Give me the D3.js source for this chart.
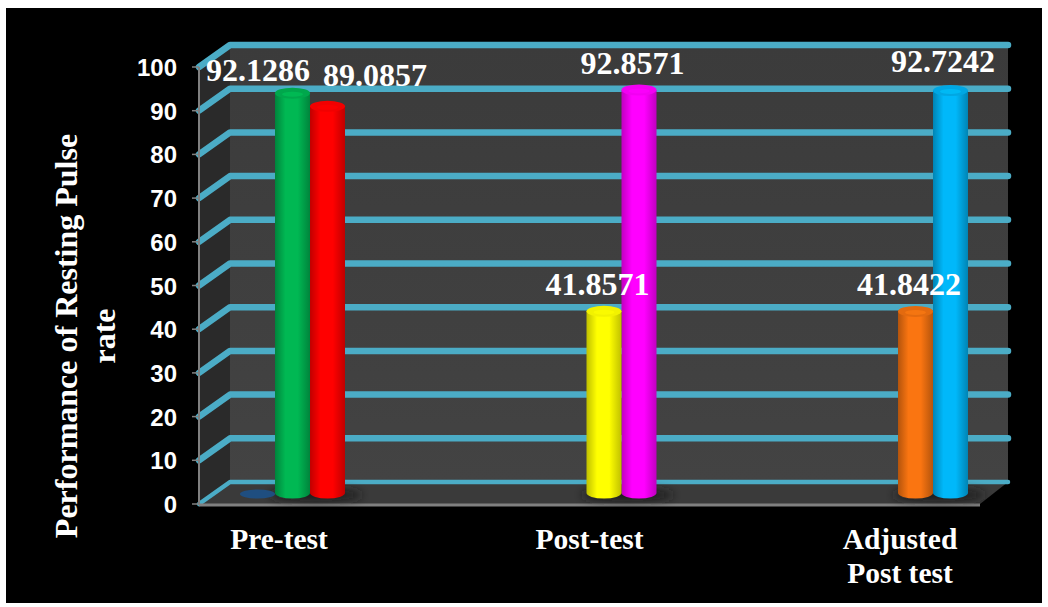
<!DOCTYPE html>
<html>
<head>
<meta charset="utf-8">
<script src="https://cdn.jsdelivr.net/npm/d3@7/dist/d3.min.js"></script>
<style>
 html, body { margin: 0; padding: 0; background: #fff; }
 svg { display: block; }
</style>
</head>
<body>
<div id="chart"></div>
<script>
//The chart's values.
var categories = ["Pre-test", "Post-test", "Adjusted Post test"];
var categoryLines = [["Pre-test"], ["Post-test"], ["Adjusted", "Post test"]];
var leftValues = [92.1286, 41.8571, 41.8422];
var rightValues = [89.0857, 92.8571, 92.7242];
var leftLabels = ["92.1286", "41.8571", "41.8422"];
var rightLabels = ["89.0857", "92.8571", "92.7242"];
var leftColors = ["#00b050", "#ffff00", "#f07010"];
var rightColors = ["#ff0000", "#ff00ff", "#00b0f0"];
var stubValues = [0];
var stubColors = ["#1f4e80"];
var yTicks = [0, 10, 20, 30, 40, 50, 60, 70, 80, 90, 100];
var yTitle = ["Performance of Resting Pulse", "rate"];

var width = 1048, height = 607;
var svg = d3.select("#chart").append("svg").attr("width", width).attr("height", height);

//The 3D box: front plane, and how far the back wall is shifted from it.
var frontLeft = 199, frontRight = 980, depthX = 31, depthY = -22;
var frontY = d3.scaleLinear().domain([0, 100]).range([504, 67]);
var barY = d3.scaleLinear().domain([0, 100]).range([493, 59]);
var barJoin = d3.scalePoint().domain(categories).range([310, 933]);
var labelX = d3.scalePoint().domain(categories).range([279, 900]);
var barWidth = 35;
var ry = 5.5;

var defs = svg.append("defs");

//Cylinder shading: darker at both edges, slightly bright in the middle.
function cylinderGradient(id, color)
{
 var g = defs.append("linearGradient").attr("id", id);
 var dark = d3.color(color).darker(0.8);
 var mid = d3.color(color).brighter(0.12);
 g.append("stop").attr("offset", "0%").attr("stop-color", dark);
 g.append("stop").attr("offset", "30%").attr("stop-color", mid);
 g.append("stop").attr("offset", "65%").attr("stop-color", mid);
 g.append("stop").attr("offset", "100%").attr("stop-color", dark);
}
leftColors.concat(rightColors).forEach(function(c, i) { cylinderGradient("cyl" + i, c); });

var wallGrad = defs.append("linearGradient").attr("id", "wall").attr("x1", 0).attr("x2", 0).attr("y1", 0).attr("y2", 1);
wallGrad.append("stop").attr("offset", "0%").attr("stop-color", "#3b3b3b");
wallGrad.append("stop").attr("offset", "100%").attr("stop-color", "#434343");

var shadowBlur = defs.append("filter").attr("id", "soft").attr("x", "-30%").attr("y", "-100%").attr("width", "160%").attr("height", "300%");
shadowBlur.append("feGaussianBlur").attr("stdDeviation", 5);

//Black plot area on the white page.
svg.append("rect").attr("x", 6).attr("y", 8).attr("width", 1036).attr("height", 595).attr("fill", "#000");

//Back wall, side wall, floor.
var plotTop = frontY(100), plotBottom = frontY(0);
svg.append("rect").attr("x", frontLeft + depthX).attr("y", plotTop + depthY)
 .attr("width", frontRight - frontLeft - 3).attr("height", plotBottom - plotTop).attr("fill", "url(#wall)");
svg.append("polygon").attr("fill", "#2a2a2a").attr("points", [
 [frontLeft, plotTop], [frontLeft + depthX, plotTop + depthY], [frontLeft + depthX, plotBottom + depthY], [frontLeft, plotBottom]
].join(" "));
svg.append("polygon").attr("fill", "#3a3a3a").attr("points", [
 [frontLeft, plotBottom], [frontLeft + depthX, plotBottom + depthY], [frontRight + depthX - 3, plotBottom + depthY], [frontRight, plotBottom]
].join(" "));

//Gridlines bend from the side wall on to the back wall.
svg.append("g").selectAll("polyline").data(yTicks).enter().append("polyline")
 .attr("fill", "none").attr("stroke", "#4bacc6").attr("stroke-linejoin", "round").attr("stroke-linecap", "round")
 .attr("stroke-width", function(d) { return d === 0 ? 4.5 : 6.5; })
 .attr("points", function(d)
 {
  var y = frontY(d);
  return [[frontLeft, y], [frontLeft + depthX, y + depthY], [frontRight + depthX - 3, y + depthY]].join(" ");
 });

//Axis lines and tick marks.
svg.append("line").attr("x1", frontLeft).attr("x2", frontLeft).attr("y1", plotTop).attr("y2", plotBottom + 1)
 .attr("stroke", "#808080").attr("stroke-width", 2);
svg.append("line").attr("x1", frontLeft).attr("x2", frontRight).attr("y1", plotBottom + 1).attr("y2", plotBottom + 1)
 .attr("stroke", "#808080").attr("stroke-width", 3);
svg.append("g").selectAll("line").data(yTicks).enter().append("line")
 .attr("x1", frontLeft - 7).attr("x2", frontLeft)
 .attr("y1", function(d) { return frontY(d); }).attr("y2", function(d) { return frontY(d); })
 .attr("stroke", "#808080").attr("stroke-width", 1.5);

//Tick labels.
svg.append("g").selectAll("text").data(yTicks).enter().append("text")
 .text(function(d) { return d; })
 .attr("x", 177).attr("y", function(d) { return frontY(d) + 9; })
 .attr("text-anchor", "end").attr("fill", "#fff")
 .style("font", "bold 24px 'Liberation Sans'");

//Floor shadows under each pair of bars.
svg.append("g").selectAll("ellipse").data(categories).enter().append("ellipse")
 .attr("cx", function(d) { return barJoin(d) + 6; })
 .attr("cy", barY(0) + 2).attr("rx", 46).attr("ry", 6)
 .attr("fill", "#1c1c1c").attr("filter", "url(#soft)");

//The near-zero flat bar of the first group.
svg.append("g").selectAll("ellipse").data(stubValues).enter().append("ellipse")
 .attr("cx", barJoin(categories[0]) - barWidth * 1.5)
 .attr("cy", function(d) { return barY(d) + 1; })
 .attr("rx", 17.5).attr("ry", 4.5)
 .attr("fill", function(d, i) { return stubColors[i]; });

//Draw one cylinder.
function drawBar(parent, x, value, fillId, color)
{
 var yTop = barY(value), yBase = barY(0);
 var g = parent.append("g");
 g.append("path").attr("fill", "url(#" + fillId + ")").attr("d",
  "M" + x + "," + yTop +
  "V" + yBase +
  "A" + barWidth / 2 + "," + ry + " 0 0 0 " + (x + barWidth) + "," + yBase +
  "V" + yTop + "Z");
 g.append("ellipse").attr("cx", x + barWidth / 2).attr("cy", yTop).attr("rx", barWidth / 2).attr("ry", ry)
  .attr("fill", d3.color(color).darker(0.15));
 g.append("ellipse").attr("cx", x + barWidth / 2).attr("cy", yTop + 1).attr("rx", barWidth / 2 - 7).attr("ry", ry - 3)
  .attr("fill", d3.color(color).brighter(0.3)).attr("opacity", 0.6);
}

var bars = svg.append("g");
categories.forEach(function(c, i)
{
 //Right bar first so the left one overlaps its edge.
 drawBar(bars, barJoin(c), rightValues[i], "cyl" + (i + leftColors.length), rightColors[i]);
 drawBar(bars, barJoin(c) - barWidth, leftValues[i], "cyl" + i, leftColors[i]);
});

//Value labels above the bars.
var labelGroup = svg.append("g").attr("fill", "#fff").attr("text-anchor", "middle").style("font", "bold 32px 'Liberation Serif'");
var leftShift = [-34.5, -6.5, -6.5], rightShift = [47.5, -6.5, -7.5];
var leftRise = [12, 16, 16], rightRise = [20, 16, 19];
categories.forEach(function(c, i)
{
 labelGroup.append("text").text(leftLabels[i])
  .attr("x", barJoin(c) - barWidth / 2 + leftShift[i])
  .attr("y", barY(leftValues[i]) - leftRise[i]);
 labelGroup.append("text").text(rightLabels[i])
  .attr("x", barJoin(c) + barWidth / 2 + rightShift[i])
  .attr("y", barY(rightValues[i]) - rightRise[i]);
});

//Category labels.
var catGroup = svg.append("g").attr("fill", "#fff").attr("text-anchor", "middle").style("font", "bold 29.5px 'Liberation Serif'");
categories.forEach(function(c, i)
{
 categoryLines[i].forEach(function(line, j)
 {
  catGroup.append("text").text(line).attr("x", labelX(c)).attr("y", 549 + j * 34);
 });
});

//Y axis title, two rotated lines.
yTitle.forEach(function(line, i)
{
 svg.append("text").text(line)
  .attr("transform", "translate(" + (77 + i * 38) + ",336) rotate(-90)")
  .attr("text-anchor", "middle").attr("fill", "#fff")
  .style("font", "bold 32px 'Liberation Serif'");
});
</script>
</body>
</html>
